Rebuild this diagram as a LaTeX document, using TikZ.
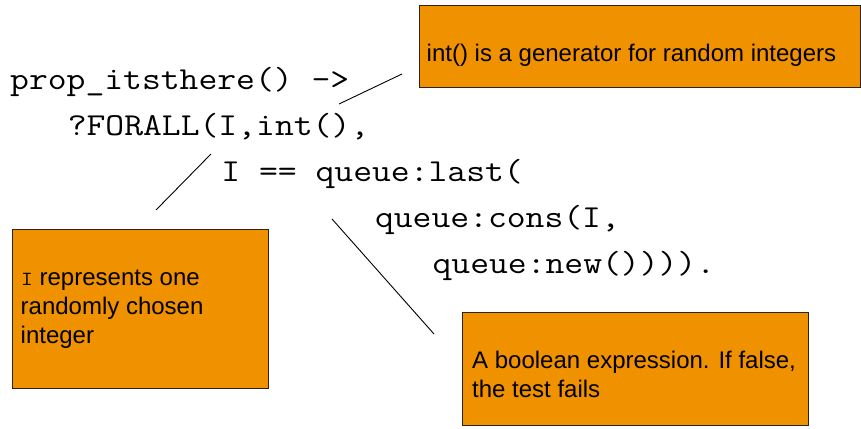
\documentclass[tikz,border=0pt]{standalone}
\usepackage{graphicx}
\usepackage{fontspec}
\setmainfont{Liberation Sans}
\newcommand{\mycodeline}[1]{\scalebox{1.143}[1]{\ttfamily\fontsize{32}{38}\selectfont #1}}
\newcommand{\mysmallcode}[1]{\scalebox{1.143}[1]{\ttfamily\fontsize{20}{24}\selectfont #1}}
\definecolor{boxfill}{RGB}{240,145,0}
\definecolor{boxline}{RGB}{45,35,20}
\begin{document}
\begin{tikzpicture}[x=1pt,y=-1pt,
  code/.style={anchor=base west, inner sep=0pt},
  notebox/.style={draw=boxline, fill=boxfill, line width=1.3pt, anchor=north west, inner sep=0pt},
  notetext/.style={anchor=base west, inner sep=0pt, font=\fontsize{24}{29}\selectfont},
  leader/.style={draw=black, line width=0.9pt}]
\useasboundingbox (0,0) rectangle (861,428);
% code
\node[code] (c1) at (10,89) {\mycodeline{prop\_itsthere() ->}};
\node[code] (c2) at (67.6,135) {\mycodeline{?FORALL(I,int(),}};
\node[code] (c3) at (221.2,181) {\mycodeline{I == queue:last(}};
\node[code] (c4) at (374.8,227) {\mycodeline{queue:cons(I,}};
\node[code] (c5) at (432.4,273) {\mycodeline{queue:new()))).}};
% boxes
\node[notebox, minimum width=441pt, minimum height=82pt] (b1) at (418.5,5) {};
\node[notebox, minimum width=256pt, minimum height=159pt] (b2) at (12,229) {};
\node[notebox, minimum width=346pt, minimum height=113pt] (b3) at (462,312) {};
% box texts
\node[notetext] (t1) at (426.5,62) {int() is a generator for random integers};
\node[notetext] (t2a) at (21,285) {\mysmallcode{I} represents one};
\node[notetext] (t2b) at (20.5,314) {randomly chosen};
\node[notetext] (t2c) at (20.5,343) {integer};
\node[notetext] (t3a) at (472,368) {A boolean expression. If false,};
\node[notetext] (t3b) at (472,397) {the test fails};
% leader ends
\coordinate (l1a) at (339,104);
\coordinate (l1b) at (402,74);
\coordinate (l2a) at (211,154);
\coordinate (l2b) at (156,210);
\coordinate (l3a) at (332,219);
\coordinate (l3b) at (434,334);
\draw[leader] (l1a) -- (l1b);
\draw[leader] (l2a) -- (l2b);
\draw[leader] (l3a) -- (l3b);
\end{tikzpicture}
\end{document}
